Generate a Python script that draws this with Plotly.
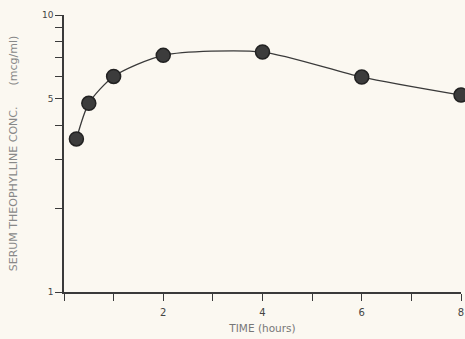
import plotly.graph_objects as go

time_h = [0.25, 0.5, 1, 2, 4, 6, 8]
conc = [3.57, 4.8, 6.0, 7.15, 7.35, 5.97, 5.14]
y_tick_vals = [1, 2, 3, 4, 5, 6, 7, 8, 9, 10]
y_tick_text = ["1", "", "", "", "5", "", "", "", "", "10"]
x_tick_vals = [0, 1, 2, 3, 4, 5, 6, 7, 8]
x_tick_text = ["", "", "2", "", "4", "", "6", "", "8"]

ink = "#3a3a3a"
bg = "#fbf8f1"
fig = go.Figure()
fig.add_trace(go.Scatter(
    x=time_h, y=conc, mode="lines+markers",
    line=dict(color=ink, width=1.3, shape="spline", smoothing=0.7),
    marker=dict(size=14, color="#3c3c3c", line=dict(color="#222", width=1.5)),
    showlegend=False, cliponaxis=False,
))
fig.update_layout(
    width=465, height=339,
    margin=dict(l=64, r=4, t=15, b=47, autoexpand=False),
    paper_bgcolor=bg, plot_bgcolor=bg,
    font=dict(family="DejaVu Sans", color="#444", size=10),
)
fig.update_xaxes(
    range=[0, 8], tickvals=x_tick_vals, ticktext=x_tick_text,
    ticks="outside", ticklen=7, tickwidth=1.3, tickcolor=ink,
    showline=True, linecolor=ink, linewidth=1.5, showgrid=False, zeroline=False,
    title=dict(text="TIME (hours)", font=dict(size=10.5, color="#777"), standoff=8),
    tickfont=dict(size=10, color="#444"), ticklabelstandoff=3,
)
fig.update_yaxes(
    type="log", range=[0, 1], tickvals=y_tick_vals, ticktext=y_tick_text,
    ticks="outside", ticklen=7, tickwidth=1.3, tickcolor=ink,
    showline=True, linecolor=ink, linewidth=1.5, showgrid=False, zeroline=False,
    title=dict(text="SERUM THEOPHYLLINE CONC.      (mcg/ml)", font=dict(size=11, color="#888"), standoff=22),
    tickfont=dict(size=9, color="#444"),
)
fig.write_html("out.html", config={"displayModeBar": False},
               post_script="document.body.style.margin='0';")
